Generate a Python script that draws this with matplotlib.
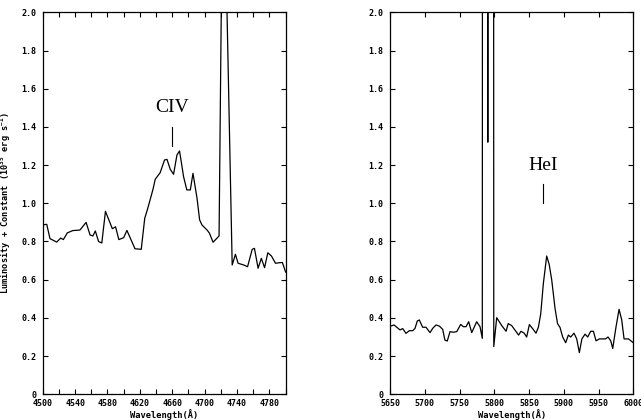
import matplotlib
matplotlib.use("Agg")
import matplotlib.pyplot as plt
from matplotlib.ticker import MultipleLocator, FuncFormatter

# left panel: CIV region
wl_civ = [4500, 4505, 4509, 4517.3, 4522.3, 4525.5, 4530.4, 4537, 4546, 4553.6,
          4558.5, 4562, 4565, 4569, 4573, 4577.5, 4586, 4590, 4594, 4600,
          4604, 4614, 4621.7, 4626, 4629.5, 4636, 4639, 4645, 4650.5, 4653.5,
          4657.5, 4661.6, 4665.8, 4669, 4674, 4678, 4682.3, 4685.6, 4690.6, 4693.8,
          4696.8, 4703, 4706, 4710.4, 4717.8, 4722.8, 4734, 4738, 4741.3,
          4748.3, 4753, 4758.7, 4761.5, 4766, 4770, 4774, 4778, 4782.5, 4787.5,
          4792.4, 4796, 4800]
lum_civ = [0.887, 0.89, 0.815, 0.797, 0.818, 0.81, 0.845, 0.857, 0.86, 0.90,
           0.834, 0.829, 0.855, 0.80, 0.792, 0.958, 0.867, 0.877, 0.81, 0.82,
           0.858, 0.762, 0.759, 0.921, 0.97, 1.07, 1.126, 1.16, 1.227, 1.23,
           1.178, 1.152, 1.253, 1.274, 1.139, 1.07, 1.07, 1.157, 1.026, 0.913,
           0.886, 0.86, 0.843, 0.796, 0.829, 3.0, 0.677, 0.733, 0.686,
           0.677, 0.668, 0.759, 0.764, 0.66, 0.712, 0.663, 0.741, 0.724, 0.686,
           0.689, 0.690, 0.64]

# right panel: HeI region
wl_hei = [5651, 5655.8, 5664.4, 5668.3, 5673, 5677.8, 5682.7, 5686, 5689.3, 5692.2,
          5697, 5701.8, 5707.6, 5711.4, 5716.2, 5721, 5725.8, 5729, 5732.4, 5736.3,
          5741, 5746, 5751.7, 5755.5, 5759.4, 5763.2, 5767.6, 5774.7, 5779.5, 5782.8,
          5783.3, 5790.3, 5790.7, 5791.1, 5798.7, 5799.3,
          5803.5, 5810.7, 5817, 5820, 5825, 5830, 5835, 5838.5, 5843, 5846.6,
          5850.5, 5856, 5860, 5863.4, 5866.8, 5870.6, 5875.4, 5879, 5882.6, 5887.4,
          5891, 5894.6, 5898.4, 5902.7, 5906.6, 5910, 5914.7, 5918.6, 5922.4, 5926,
          5930.6, 5934.4, 5938.7, 5942.6, 5946.4, 5951, 5956, 5960, 5963.7, 5967.5,
          5970.4, 5975, 5979.5, 5983.3, 5986.7, 5993, 6000]
lum_hei = [0.357, 0.363, 0.337, 0.344, 0.319, 0.333, 0.333, 0.345, 0.384, 0.389,
           0.351, 0.351, 0.323, 0.345, 0.363, 0.357, 0.34, 0.284, 0.279, 0.328,
           0.325, 0.328, 0.366, 0.354, 0.354, 0.38, 0.323, 0.38, 0.354, 0.293,
           6.0, 6.0, 1.32, 6.0, 6.0, 0.25,
           0.401, 0.36, 0.33, 0.37, 0.36, 0.335, 0.31, 0.33, 0.32, 0.30,
           0.365, 0.34, 0.32, 0.35, 0.42, 0.58, 0.724, 0.68, 0.60, 0.45,
           0.37, 0.35, 0.30, 0.27, 0.31, 0.30, 0.32, 0.29, 0.218, 0.29,
           0.315, 0.30, 0.33, 0.33, 0.28, 0.29, 0.29, 0.29, 0.30, 0.28,
           0.24, 0.35, 0.445, 0.39, 0.29, 0.29, 0.27]

civ_ticks = list(range(4500, 4800, 40))
hei_ticks = list(range(5650, 6001, 50))

mono = "DejaVu Sans Mono"
plt.rcParams["font.family"] = mono
plt.rcParams["font.weight"] = "bold"
plt.rcParams["mathtext.default"] = "regular"

fig = plt.figure(figsize=(6.41, 4.2), dpi=100)
ax1 = fig.add_axes([0.0666, 0.0612, 0.379, 0.9095])
ax2 = fig.add_axes([0.6084, 0.0612, 0.3796, 0.9095])


def ylab(v, pos):
    return "0" if abs(v) < 1e-9 else "%.1f" % v


def style(ax, ticks, minor):
    ax.set_ylim(0, 2.0)
    ax.set_xticks(ticks)
    if minor:
        ax.xaxis.set_minor_locator(MultipleLocator(minor))
    ax.yaxis.set_major_locator(MultipleLocator(0.2))
    ax.yaxis.set_major_formatter(FuncFormatter(ylab))
    ax.tick_params(which="both", direction="in", top=True, right=True,
                   length=3.6, width=0.8, labelsize=6)
    ax.tick_params(axis="x", pad=3.2)
    ax.tick_params(axis="y", pad=4.5)
    for s in ax.spines.values():
        s.set_linewidth(0.9)
    ax.set_xlabel("Wavelength(Å)", fontsize=6.3, fontweight="bold", labelpad=1)


ax1.plot(wl_civ, lum_civ, color="black", lw=0.9)
ax1.set_xlim(4500, 4800)
style(ax1, civ_ticks, 20)
ax1.set_ylabel("Luminosity + Constant (10$^{35}$ erg s$^{-1}$)",
               fontsize=6.2, fontweight="bold", labelpad=6)
ax1.text(4660, 1.5, "CIV", family="Liberation Serif", fontweight="normal",
         fontsize=14, ha="center", va="center")
ax1.plot([4660, 4660], [1.30, 1.40], color="black", lw=0.8)

ax2.plot(wl_hei, lum_hei, color="black", lw=0.9)
ax2.set_xlim(5650, 6000)
style(ax2, hei_ticks, None)
ax2.text(5870.6, 1.2, "HeI", family="Liberation Serif", fontweight="normal",
         fontsize=14, ha="center", va="center")
ax2.plot([5870.6, 5870.6], [1.0, 1.10], color="black", lw=0.8)

fig.savefig("out.png", dpi=100)
